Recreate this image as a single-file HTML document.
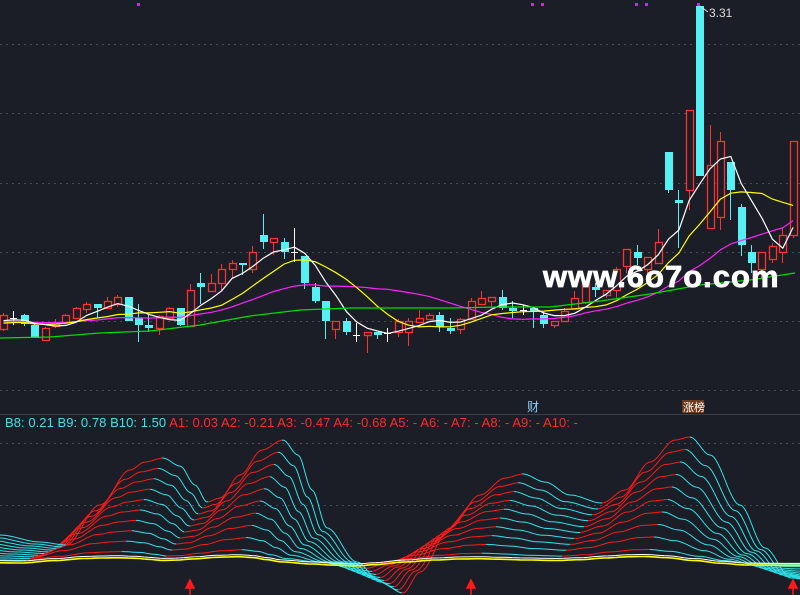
<!DOCTYPE html>
<html><head><meta charset="utf-8"><style>
html,body{margin:0;padding:0;background:#1b1e26;width:800px;height:595px;overflow:hidden}
svg{display:block}
text{font-family:"Liberation Sans","Noto Sans CJK SC",sans-serif}
</style></head><body>
<svg id="s" width="800" height="595" xmlns="http://www.w3.org/2000/svg">
<rect width="800" height="595" fill="#1b1e26"/>
<g stroke="#454a55" stroke-dasharray="2,4" stroke-width="1">
<line x1="0" y1="44.5" x2="800" y2="44.5"/><line x1="0" y1="113.5" x2="800" y2="113.5"/>
<line x1="0" y1="183.5" x2="800" y2="183.5"/><line x1="0" y1="252.5" x2="800" y2="252.5"/>
<line x1="0" y1="321.5" x2="800" y2="321.5"/><line x1="0" y1="390.5" x2="800" y2="390.5"/>
<line x1="0" y1="443.5" x2="800" y2="443.5"/><line x1="0" y1="505.5" x2="800" y2="505.5"/>
</g>
<line x1="0" y1="414.5" x2="800" y2="414.5" stroke="#3a3f4a"/>
<g fill="#e020e0"><rect x="137" y="3" width="3" height="3"/><rect x="531" y="3" width="3" height="3"/><rect x="541" y="3" width="3" height="3"/><rect x="635" y="3" width="3" height="3"/><rect x="645" y="3" width="3" height="3"/><rect x="697" y="3" width="3" height="3"/></g>
<g id="c"></g>
<g id="ma"></g>
<polyline fill="none" stroke="#00e000" stroke-width="1.2" points="0,338 50,337 100,333 150,331 200,325 250,316 300,310 350,308 400,308 450,308 500,307 550,307 600,301 650,294 700,285 750,280 795,273"/>
<line x1="700" y1="6" x2="708" y2="12" stroke="#ddd"/>
<text x="709" y="17" fill="#ddd" font-size="12">3.31</text>
<text x="543" y="287" fill="#fff" font-size="31" font-weight="bold" stroke="#fff" stroke-width="0.8" letter-spacing="1">www.6o7o.com</text>
<text x="527" y="411" fill="#8fd0ff" font-size="12">财</text>
<rect x="682" y="400" width="22" height="13" fill="#6b3a1e"/>
<text x="683" y="411" fill="#fff" font-size="11">涨榜</text>
<text x="5" y="427" font-size="13" textLength="573" lengthAdjust="spacing"><tspan fill="#3fe0ea">B8: 0.21 B9: 0.78 B10: 1.50 </tspan><tspan fill="#ff2a2a">A1: 0.03 A2: -0.21 A3: -0.47 A4: -0.68 A5: - A6: - A7: - A8: - A9: - A10: -</tspan></text>
<g id="o"></g>
<g fill="#ff1a1a" stroke="#ff1a1a" stroke-width="1.5">
<line x1="190" y1="584" x2="190" y2="595"/><path d="M186,588 L190,580 L194,588Z"/>
<line x1="471" y1="584" x2="471" y2="595"/><path d="M467,588 L471,580 L475,588Z"/>
<line x1="793" y1="584" x2="793" y2="595"/><path d="M789,588 L793,580 L797,588Z"/>
</g>
</svg>
<script>
(function(){
var D=[
['r',315,329,313,331],['w',318,318,311,325],['c',315,324,314,326],['c',325,338,322,338],['r',328,340,327,340],
['r',322,326,319,328],['r',315,322,314,323],['r',308,318,307,319],['r',304,309,302,313],['c',304,308,304,318],
['r',301,308,297,309],['r',297,304,295,307],['c',297,321,297,321],['c',318,325,304,342],['c',325,328,315,332],
['r',316,328,315,335],['r',308,318,307,319],['c',308,325,308,326],['r',290,326,284,327],['c',283,287,273,304],
['r',283,291,274,292],['r',269,283,264,290],['r',263,269,260,278],['c',263,265,263,275],['r',252,269,246,273],
['c',235,242,214,249],['r',238,242,238,255],['c',242,252,238,259],['w',252,252,228,262],['c',256,283,256,289],
['c',287,301,283,303],['c',301,321,301,339],['r',321,329,321,339],['c',321,332,318,335],['w',335,335,323,342],
['r',332,335,332,353],['c',332,335,332,339],['w',333,333,328,342],['r',321,332,319,337],['r',321,332,318,346],
['r',318,322,310,323],['r',315,319,313,320],['c',315,327,312,332],['c',328,331,318,334],['r',319,329,318,334],
['r',301,319,298,320],['r',298,304,291,305],['r',297,301,297,308],['c',297,308,290,310],['c',308,311,301,318],
['w',310,310,305,315],['c',308,312,308,328],['c',315,324,312,328],['r',321,325,321,328],['r',311,321,308,322],
['r',298,308,291,309],['r',282,302,282,304],['c',287,290,283,297],['r',290,295,290,298],['r',269,290,267,298],
['r',249,266,249,273],['c',252,258,245,265],['r',257,269,257,283],['r',242,263,229,264],['c',152,190,152,193],
['c',200,203,190,248],['r',110,190,110,210],['c',6,176,6,176],['r',165,228,125,229],['r',141,217,132,230],
['c',162,190,162,220],['c',207,245,204,256],['c',252,263,245,273],['r',252,269,252,278],['r',246,259,243,263],
['r',235,252,228,263],['r',141,235,141,238]];
var NS='http://www.w3.org/2000/svg';
function el(p,tag,a){var e=document.createElementNS(NS,tag);for(var k in a)e.setAttribute(k,a[k]);p.appendChild(e);return e;}
var c=document.getElementById('c');
var cl=[];
D.forEach(function(d,i){var x=Math.round(3+i*10.39);var col=d[0]=='r'?'#ff3030':d[0]=='c'?'#54f0f4':'#ffffff';
 el(c,'line',{x1:x+.5,y1:d[3],x2:x+.5,y2:d[4],stroke:col});
 if(d[0]=='r'){el(c,'rect',{x:x-2.5,y:d[1]+.5,width:7,height:Math.max(1,d[2]-d[1]),fill:'#1b1e26',stroke:col,'stroke-width':1.3});}
 else if(d[0]=='c'){el(c,'rect',{x:x-3,y:d[1],width:8,height:Math.max(2,d[2]-d[1]),fill:col});}
 else{el(c,'line',{x1:x-3,y1:d[1]+.5,x2:x+4,y2:d[1]+.5,stroke:'#fff'});}
 cl.push(d[0]=='r'?d[1]:d[0]=='c'?d[2]:d[1]);});
var ma=document.getElementById('ma');
function sma(n,col,pre){var p=[];for(var i=0;i<cl.length;i++){var s=0,k=0;for(var j=Math.max(0,i-n+1);j<=i;j++){s+=cl[j];k++;}
 s+=(n-k)*pre;p.push((3.5+i*10.39).toFixed(1)+','+(s/n).toFixed(1));}
 el(ma,'polyline',{fill:'none',stroke:col,'stroke-width':1.2,points:p.join(' ')});}
sma(20,'#ff20ff',322);sma(10,'#ffff00',324);sma(5,'#ffffff',322);
var T=[[0,535],[40,542],[66,545],[100,505],[130,470],[145,462],[163,458],[180,466],[195,485],[207,502],[220,498],[240,475],[262,450],[283,440],[298,455],[312,490],[327,528],[357,562],[380,582],[403,593],[420,572],[450,528],[480,495],[505,478],[523,474],[545,482],[570,495],[602,503],[625,490],[650,462],[675,440],[690,437],[710,455],[740,505],[765,548],[791,578],[830,585]];
function topf(x){if(x<=T[0][0])return T[0][1];for(var i=1;i<T.length;i++){if(x<=T[i][0]){var a=T[i-1],b=T[i];var t=(x-a[0])/(b[0]-a[0]);t=t*t*(3-2*t);return a[1]+(b[1]-a[1])*t;}}return T[T.length-1][1];}
var o=document.getElementById('o'),base=562;
for(var k=1;k<=10;k++){var s=k/10,lag=(10-k)*4.5,prev=null;
 for(var x=0;x<=800;x+=2){var y=base-(base-topf(x+lag))*s;
  if(prev!==null){el(o,'line',{x1:x-2,y1:prev.toFixed(1),x2:x,y2:y.toFixed(1),stroke:(y<prev?'#ff1a1a':'#2ee6ee')});}
  prev=y;}}
var yb=[],wb=[];for(var x=0;x<=800;x+=4){var v=base-(base-topf(x+45))*0.06;yb.push(x+','+(v+2).toFixed(1));wb.push(x+','+v.toFixed(1));}
el(o,'polyline',{fill:'none',stroke:'#ffff00','stroke-width':1.6,points:yb.join(' ')});
el(o,'polyline',{fill:'none',stroke:'#ffffff','stroke-width':1,points:wb.join(' ')});
})();
</script>
</body></html>
